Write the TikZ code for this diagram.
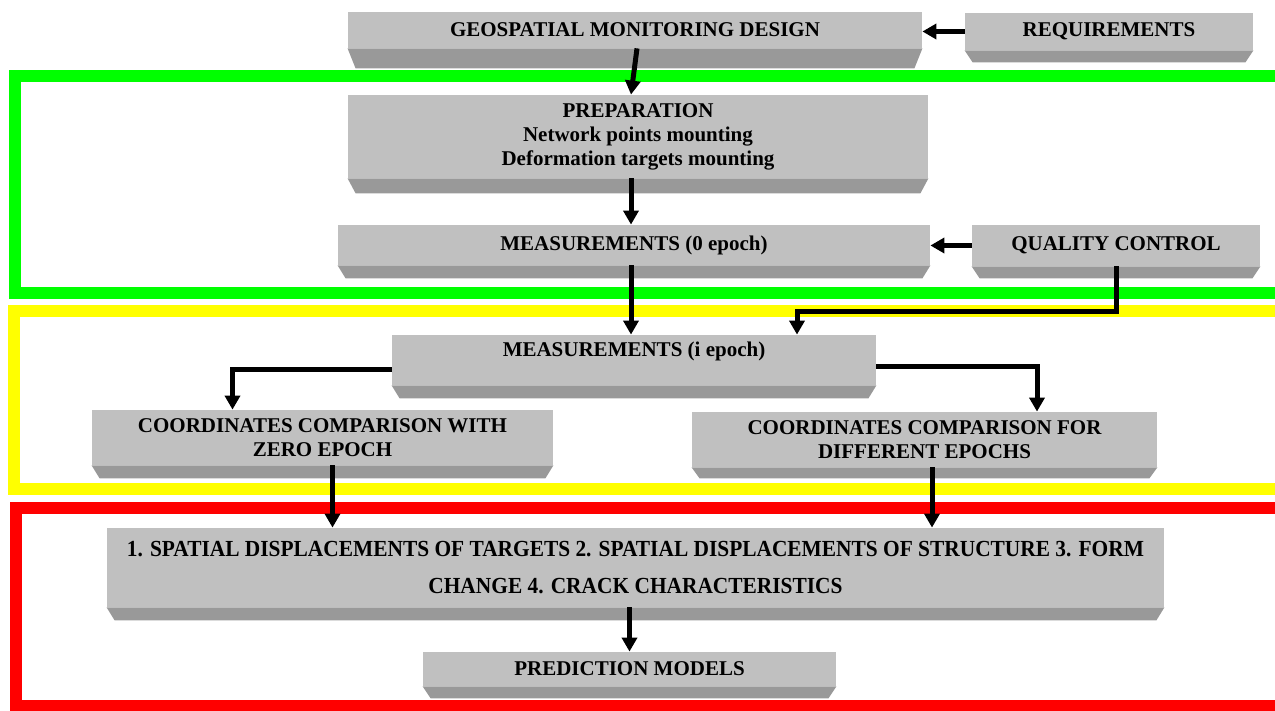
\documentclass[tikz,border=0pt]{standalone}
\usepackage{fontspec}
\setmainfont{Liberation Serif}
\newfontfamily\narrowserif[FakeStretch=0.93]{Liberation Serif}
\usetikzlibrary{arrows.meta}
\definecolor{slabface}{RGB}{192,192,192}
\definecolor{slabside}{RGB}{153,153,153}
\definecolor{framegreen}{RGB}{0,255,0}
\definecolor{frameyellow}{RGB}{255,255,0}
\definecolor{framered}{RGB}{255,0,0}
\begin{document}
\begin{tikzpicture}[x=0.5pt,y=-0.5pt,
 slab/.style={fill=slabface,inner sep=0pt,align=center,font=\fontsize{10.5}{12}\selectfont\bfseries},
 arr/.style={line width=2.5pt,-{Triangle[length=7pt,width=7.5pt]}},
 band/.style={line width=6pt}]
 \useasboundingbox (0,0) rectangle (1275,711);
 % coloured frames, open on the right
 \draw[band,framegreen](1290,76)--(15,76)--(15,293)--(1290,293);
 \draw[band,frameyellow](1290,311)--(13.5,311)--(13.5,489)--(1290,489);
 \draw[band,framered](1290,507.5)--(16,507.5)--(16,706)--(1290,706);
 % slabs
 \node[slab,minimum width=287pt,minimum height=18pt](geo) at (635,30){GEOSPATIAL MONITORING DESIGN};
 \node[slab,minimum width=144pt,minimum height=18.5pt](req) at (1109,31.5){REQUIREMENTS};
 \node[slab,minimum width=290pt,minimum height=41.5pt](prep) at (638,136.5){PREPARATION\\Network points mounting\\Deformation targets mounting};
 \node[slab,minimum width=296pt,minimum height=20pt](meas0) at (634,245){MEASUREMENTS (0 epoch)};
 \node[slab,minimum width=144pt,minimum height=20.5pt](qc) at (1116,245.5){QUALITY CONTROL};
 \node[slab,minimum width=242pt,minimum height=25pt,text depth=11pt](measi) at (634,360){MEASUREMENTS (i epoch)};
 \node[slab,minimum width=230.5pt,minimum height=27.5pt](zero) at (322.5,437.5){COORDINATES COMPARISON WITH\\ZERO EPOCH};
 \node[slab,minimum width=232.5pt,minimum height=27.5pt](diff) at (924.5,439.5){COORDINATES COMPARISON FOR\\DIFFERENT EPOCHS};
 \node[slab,minimum width=528.5pt,minimum height=39.5pt,font=\fontsize{11.5}{18.5}\selectfont\narrowserif\bfseries](spat) at (635.5,567.5){1. SPATIAL DISPLACEMENTS OF TARGETS 2. SPATIAL DISPLACEMENTS OF STRUCTURE 3. FORM\\CHANGE 4. CRACK CHARACTERISTICS};
 \node[slab,minimum width=206.5pt,minimum height=17pt](pred) at (629.5,669){PREDICTION MODELS};
 % bevels under the slabs
 \foreach \n/\h in {geo/20,req/12,prep/15,meas0/13,qc/12,measi/13,zero/13,diff/11,spat/13,pred/12}
  \fill[slabside](\n.south west)--(\n.south east)--([shift={(-8,\h)}]\n.south east)--([shift={(8,\h)}]\n.south west)--cycle;
 % arrows
 \draw[arr]([xshift=1pt]geo.south)--([xshift=-3.5pt]prep.north);
 \draw[arr](req.west)--(geo.east |- req.west);
 \draw[arr]([xshift=-3.5pt]prep.south)--([xshift=-1.5pt]meas0.north);
 \draw[arr](qc.west)--(meas0.east |- qc.west);
 \draw[arr]([xshift=-1.5pt]meas0.south)--([xshift=-1.5pt]measi.north);
 \draw[arr](qc.south)--++(0,45)-|([shift={(163,0)}]measi.north);
 \draw[arr]([shift={(0,10)}]measi.west)-|([shift={(-90,0)}]zero.north);
 \draw[arr]([shift={(0,7)}]measi.east)-|([shift={(112.5,0)}]diff.north);
 \draw[arr]([xshift=5pt]zero.south)--([xshift=5pt]zero.south |- spat.north);
 \draw[arr]([xshift=3.75pt]diff.south)--([xshift=3.75pt]diff.south |- spat.north);
 \draw[arr](pred.north |- spat.south)--(pred.north);
\end{tikzpicture}
\end{document}
